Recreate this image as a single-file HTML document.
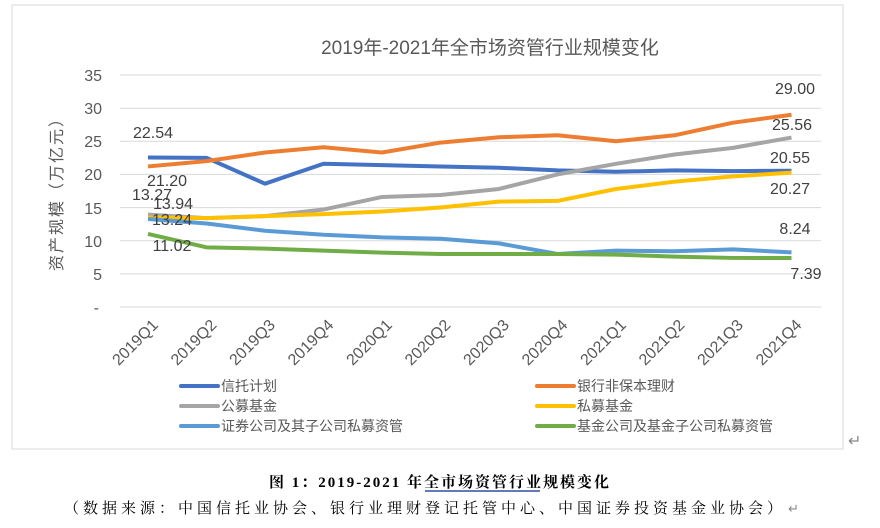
<!DOCTYPE html>
<html><head><meta charset="utf-8"><style>
body{margin:0;background:#fff;width:880px;height:523px;overflow:hidden}
svg text{font-family:"Liberation Sans","Noto Sans CJK SC",sans-serif}
</style></head><body>
<svg width="880" height="523" viewBox="0 0 880 523">
<rect x="12" y="5" width="831" height="444" fill="#fff" stroke="#d9d9d9"/>
<text x="490" y="54" font-size="19" fill="#595959" text-anchor="middle">2019年-2021年全市场资管行业规模变化</text>
<g stroke="#d9d9d9" stroke-width="1">
<line x1="120" x2="821" y1="75" y2="75"/><line x1="120" x2="821" y1="108.2" y2="108.2"/>
<line x1="120" x2="821" y1="141.3" y2="141.3"/><line x1="120" x2="821" y1="174.4" y2="174.4"/>
<line x1="120" x2="821" y1="207.6" y2="207.6"/><line x1="120" x2="821" y1="240.7" y2="240.7"/>
<line x1="120" x2="821" y1="273.9" y2="273.9"/><line x1="120" x2="821" y1="307" y2="307"/>
</g>
<g font-size="16" fill="#595959" text-anchor="end">
<text x="102" y="81">35</text><text x="102" y="114">30</text><text x="102" y="147">25</text>
<text x="102" y="180">20</text><text x="102" y="214">15</text><text x="102" y="247">10</text>
<text x="102" y="280">5</text><text x="99" y="313">-</text>
</g>
<text transform="translate(62,190) rotate(-90)" font-size="16" fill="#595959" text-anchor="middle" letter-spacing="2">资产规模（万亿元）</text>
<g transform="translate(148,307) scale(58.5,-6.63)" fill="none" stroke-width="4" stroke-linejoin="round">
<polyline vector-effect="non-scaling-stroke" stroke="#4472C4" points="0,22.54 1,22.5 2,18.6 3,21.6 4,21.4 5,21.2 6,21.0 7,20.6 8,20.4 9,20.6 10,20.5 11,20.55"/>
<polyline vector-effect="non-scaling-stroke" stroke="#ED7D31" points="0,21.2 1,22.0 2,23.3 3,24.1 4,23.3 5,24.8 6,25.6 7,25.9 8,25.0 9,25.9 10,27.8 11,29.0"/>
<polyline vector-effect="non-scaling-stroke" stroke="#A5A5A5" points="0,13.94 1,13.4 2,13.7 3,14.7 4,16.6 5,16.9 6,17.8 7,20.0 8,21.6 9,23.0 10,24.0 11,25.56"/>
<polyline vector-effect="non-scaling-stroke" stroke="#FFC000" points="0,13.5 1,13.4 2,13.7 3,14.0 4,14.4 5,15.0 6,15.9 7,16.0 8,17.8 9,18.9 10,19.7 11,20.27"/>
<polyline vector-effect="non-scaling-stroke" stroke="#5B9BD5" points="0,13.27 1,12.6 2,11.5 3,10.9 4,10.5 5,10.3 6,9.6 7,8.0 8,8.5 9,8.4 10,8.7 11,8.24"/>
<polyline vector-effect="non-scaling-stroke" stroke="#70AD47" points="0,11.02 1,9.0 2,8.8 3,8.5 4,8.2 5,8.0 6,8.0 7,8.0 8,7.9 9,7.6 10,7.4 11,7.39"/>
</g>
<g font-size="16" fill="#404040" text-anchor="middle">
<text x="153" y="138">22.54</text><text x="167" y="186">21.20</text><text x="152" y="200">13.27</text>
<text x="173" y="209">13.94</text><text x="172" y="225">13.24</text><text x="172" y="251">11.02</text>
<text x="795" y="94">29.00</text><text x="792" y="130">25.56</text><text x="790" y="163">20.55</text>
<text x="790" y="194">20.27</text><text x="795" y="234">8.24</text><text x="806" y="279">7.39</text>
</g>
<g font-size="16" fill="#595959" text-anchor="end">
<text transform="translate(159,326) rotate(-45)">2019Q1</text>
<text transform="translate(217.5,326) rotate(-45)">2019Q2</text>
<text transform="translate(276,326) rotate(-45)">2019Q3</text>
<text transform="translate(334.5,326) rotate(-45)">2019Q4</text>
<text transform="translate(393,326) rotate(-45)">2020Q1</text>
<text transform="translate(451.5,326) rotate(-45)">2020Q2</text>
<text transform="translate(510,326) rotate(-45)">2020Q3</text>
<text transform="translate(568.5,326) rotate(-45)">2020Q4</text>
<text transform="translate(627,326) rotate(-45)">2021Q1</text>
<text transform="translate(685.5,326) rotate(-45)">2021Q2</text>
<text transform="translate(744,326) rotate(-45)">2021Q3</text>
<text transform="translate(802.5,326) rotate(-45)">2021Q4</text>
</g>
<g stroke-width="4" stroke-linecap="round">
<line x1="181" x2="218" y1="386" y2="386" stroke="#4472C4"/>
<line x1="181" x2="218" y1="406" y2="406" stroke="#A5A5A5"/>
<line x1="181" x2="218" y1="426" y2="426" stroke="#5B9BD5"/>
<line x1="537" x2="574" y1="386" y2="386" stroke="#ED7D31"/>
<line x1="537" x2="574" y1="406" y2="406" stroke="#FFC000"/>
<line x1="537" x2="574" y1="426" y2="426" stroke="#70AD47"/>
</g>
<g font-size="14" fill="#595959">
<text x="221" y="391">信托计划</text><text x="221" y="411">公募基金</text><text x="221" y="431">证券公司及其子公司私募资管</text>
<text x="577" y="391">银行非保本理财</text><text x="577" y="411">私募基金</text><text x="577" y="431">基金公司及基金子公司私募资管</text>
</g>
<text x="848" y="446" font-size="16" fill="#888">↵</text>
<text x="440" y="487" font-size="15" fill="#000" text-anchor="middle" font-weight="bold" letter-spacing="2" style="font-family:'Liberation Serif','Noto Serif CJK SC',serif">图 1：2019-2021 年全市场资管行业规模变化</text>
<line x1="425" y1="491" x2="540" y2="491" stroke="#2f4fa0" stroke-width="1.5"/>
<text x="425" y="513" font-size="15" fill="#000" text-anchor="middle" letter-spacing="4" style="font-family:'Liberation Serif','Noto Serif CJK SC',serif">（数据来源：中国信托业协会、银行业理财登记托管中心、中国证券投资基金业协会）</text>
<text x="788" y="513" font-size="13" fill="#888">↵</text>
</svg>
</body></html>
